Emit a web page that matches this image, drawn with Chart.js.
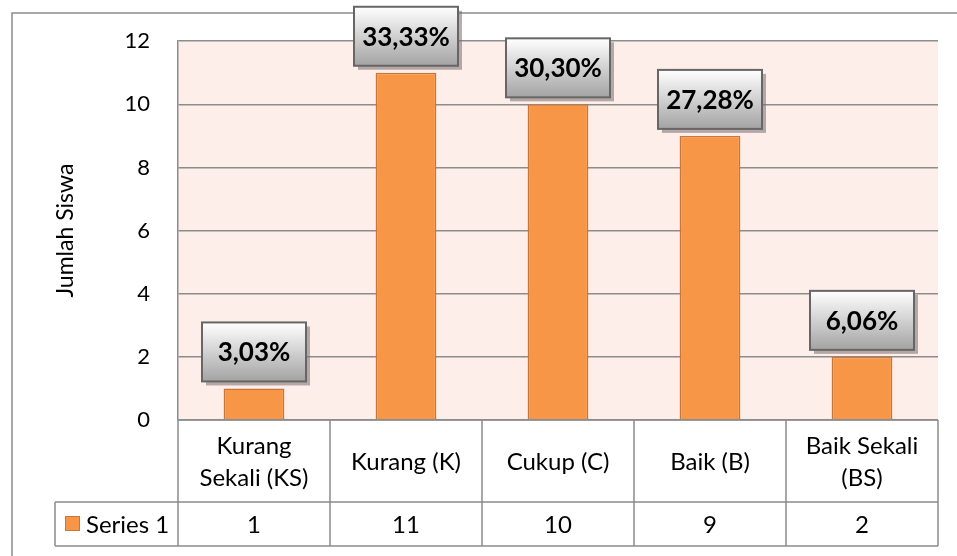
<!DOCTYPE html>
<html><head><meta charset="utf-8">
<script src="https://cdn.jsdelivr.net/npm/chart.js@4/dist/chart.umd.min.js"></script>
<style>html,body{margin:0;padding:0;background:#fff;} canvas{display:block;}</style>
</head><body>
<canvas id="c" width="957" height="556"></canvas>
<script>
// ---- data ----
const categories = [['Kurang', 'Sekali (KS)'], 'Kurang (K)', 'Cukup (C)', 'Baik (B)', ['Baik Sekali', '(BS)']];
const seriesName = 'Series 1';
const values = [1, 11, 10, 9, 2];
const percentLabels = ['3,03%', '33,33%', '30,30%', '27,28%', '6,06%'];
const yMin = 0, yMax = 12, yStep = 2;
const yTitle = 'Jumlah Siswa';

// ---- styles ----
const FONT = 'Lato';
const LINE = '#8c8c8c';
const BAR = '#f79646';
const BAR_BORDER = '#c8763a';
const PLOT_BG = '#fdeee9';

const bgPlugin = {
  id: 'bg',
  beforeDraw(chart) {
    const {ctx, chartArea: a} = chart;
    ctx.save();
    ctx.fillStyle = '#fff';
    ctx.fillRect(0, 0, chart.width, chart.height);
    ctx.strokeStyle = LINE;
    ctx.lineWidth = 1.5;
    ctx.strokeRect(12, 13, chart.width + 10, chart.height + 10);
    ctx.fillStyle = PLOT_BG;
    ctx.fillRect(a.left, a.top, a.right - a.left, a.bottom - a.top);
    ctx.restore();
  }
};

const tablePlugin = {
  id: 'table',
  afterDraw(chart) {
    const {ctx, chartArea: a} = chart;
    const xs = chart.scales.x;
    const n = categories.length;
    const cw = (a.right - a.left) / n;
    const top = a.bottom, mid = a.bottom + 82, bot = a.bottom + 126;
    const legLeft = 55;
    ctx.save();
    ctx.strokeStyle = LINE;
    ctx.lineWidth = 1.5;
    ctx.beginPath();
    ctx.moveTo(a.left, top); ctx.lineTo(a.right, top);
    ctx.moveTo(legLeft, mid); ctx.lineTo(a.right, mid);
    ctx.moveTo(legLeft, bot); ctx.lineTo(a.right, bot);
    ctx.moveTo(legLeft, mid); ctx.lineTo(legLeft, bot);
    for (let i = 0; i <= n; i++) {
      const x = (i < n ? xs.getPixelForValue(i) - cw / 2 : xs.getPixelForValue(n - 1) + cw / 2);
      ctx.moveTo(x, top); ctx.lineTo(x, bot);
    }
    ctx.stroke();

    ctx.fillStyle = '#000';
    ctx.font = '24px ' + FONT;
    ctx.textAlign = 'center';
    ctx.textBaseline = 'middle';
    const hc = (top + mid) / 2 + 1;
    for (let i = 0; i < n; i++) {
      const cx = xs.getPixelForValue(i);
      const lab = categories[i];
      if (Array.isArray(lab)) {
        ctx.fillText(lab[0], cx, hc - 16);
        ctx.fillText(lab[1], cx, hc + 16);
      } else {
        ctx.fillText(lab, cx, hc);
      }
      ctx.fillText(String(values[i]), cx, (mid + bot) / 2 + 1);
    }
    // legend key
    const vc = (mid + bot) / 2;
    ctx.fillStyle = BAR;
    ctx.fillRect(65, vc - 8, 15, 15);
    ctx.strokeStyle = BAR_BORDER;
    ctx.lineWidth = 1;
    ctx.strokeRect(65.5, vc - 7.5, 14, 14);
    ctx.fillStyle = '#000';
    ctx.textAlign = 'left';
    ctx.fillText(seriesName, 86, vc + 1);
    ctx.restore();
  }
};

const labelPlugin = {
  id: 'boxLabels',
  afterDatasetsDraw(chart) {
    const {ctx} = chart;
    const meta = chart.getDatasetMeta(0);
    ctx.save();
    meta.data.forEach((bar, i) => {
      const w = 104, h = 59;
      const x = bar.x - w / 2;
      const y = bar.y - 7 - h;
      ctx.fillStyle = 'rgba(120,110,110,0.55)';
      ctx.fillRect(x + 4, y + 4, w, h);
      const g = ctx.createLinearGradient(0, y, 0, y + h);
      g.addColorStop(0, '#ffffff');
      g.addColorStop(1, '#a3a3a3');
      ctx.fillStyle = g;
      ctx.fillRect(x, y, w, h);
      ctx.strokeStyle = '#666666';
      ctx.lineWidth = 2;
      ctx.strokeRect(x, y, w, h);
      ctx.fillStyle = '#000';
      ctx.font = 'bold 26px ' + FONT;
      ctx.textAlign = 'center';
      ctx.textBaseline = 'middle';
      ctx.fillText(percentLabels[i], bar.x, y + h / 2 + 1);
    });
    ctx.restore();
  }
};

new Chart(document.getElementById('c'), {
  type: 'bar',
  data: {
    labels: categories,
    datasets: [{
      label: seriesName,
      data: values,
      backgroundColor: BAR,
      borderColor: BAR_BORDER,
      borderWidth: 1.5,
      categoryPercentage: 1,
      barPercentage: 0.4
    }]
  },
  options: {
    responsive: false,
    devicePixelRatio: 1,
    animation: false,
    layout: {padding: {left: 0, top: 41, right: 19, bottom: 136}},
    plugins: {legend: {display: false}, tooltip: {enabled: false}},
    scales: {
      x: {display: false},
      y: {
        min: yMin, max: yMax,
        ticks: {stepSize: yStep, padding: 28, color: '#000', font: {family: FONT, size: 22}},
        grid: {color: LINE, lineWidth: 1.5, drawTicks: false},
        border: {display: true, color: LINE, width: 1.5},
        title: {display: true, text: yTitle, color: '#000', font: {family: FONT, size: 23}, padding: {top: 52, bottom: 0}},
        afterFit(s) { s.width = 178; }
      }
    }
  },
  plugins: [bgPlugin, tablePlugin, labelPlugin]
});
</script>
</body></html>
